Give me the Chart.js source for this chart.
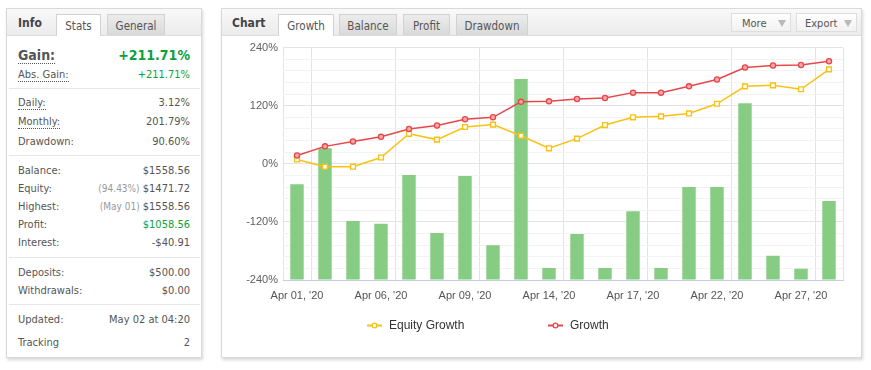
<!DOCTYPE html>
<html>
<head>
<meta charset="utf-8">
<script src="https://cdn.jsdelivr.net/npm/chart.js@4.4.1/dist/chart.umd.min.js"></script>
<style>
body{margin:0;background:#fff;width:871px;height:370px;overflow:hidden;position:relative;
  font-family:"DejaVu Sans Condensed","DejaVu Sans",sans-serif;font-size:11px;color:#555}
.panel{position:absolute;top:8px;height:348px;background:#fff;border:1px solid #d9d9d9;box-shadow:1px 2px 3px rgba(0,0,0,.16)}
.head{position:absolute;left:0;top:0;right:0;height:26px;background:linear-gradient(#f9f9f9,#ebebeb);border-bottom:1px solid #dcdcdc}
.title{position:absolute;top:0;height:26px;line-height:29px;font-weight:bold;font-size:12px;color:#444}
.tab{position:absolute;top:5px;height:20px;line-height:22px;text-align:center;font-size:11.5px;color:#555;
  border:1px solid #d2d2d2;border-bottom:none;background:linear-gradient(#ececec,#d9d9d9);box-sizing:border-box;height:21px}
.tab.on{background:#fff;height:22px}
.btn{position:absolute;top:4px;height:19px;line-height:19px;box-sizing:border-box;border:1px solid #dedede;
  background:linear-gradient(#fff,#f1f1f1);font-size:11px;color:#555;padding-left:10px}
.btn i{position:absolute;right:4px;top:6px;width:0;height:0;border-left:4px solid transparent;border-right:4px solid transparent;border-top:7px solid #b9b9b9}
.row{position:absolute;left:11px;right:11px;height:16px;line-height:16px;white-space:nowrap}
.row .v{position:absolute;right:0;top:0}
.u{border-bottom:1px dotted #555}
.g{color:#0ba23c}
.s{color:#9a9a9a;font-size:10px}
.sep{position:absolute;left:2px;right:1px;height:1px;background:#e6e6e6}
#chartBox{position:absolute;left:0;top:27px}
</style>
</head>
<body>

<div class="panel" style="left:6px;width:194px">
  <div class="head">
    <div class="title" style="left:11px">Info</div>
    <div class="tab on" style="left:49px;width:45px">Stats</div>
    <div class="tab" style="left:100px;width:58px">General</div>
  </div>
  <div class="row" style="top:38px;font-size:14px;font-weight:bold"><span class="u">Gain:</span><span class="v g">+211.71%</span></div>
  <div class="row" style="top:58px"><span class="u">Abs. Gain:</span><span class="v g">+211.71%</span></div>
  <div class="sep" style="top:79px"></div>
  <div class="row" style="top:86px"><span class="u">Daily:</span><span class="v">3.12%</span></div>
  <div class="row" style="top:105px"><span class="u">Monthly:</span><span class="v">201.79%</span></div>
  <div class="row" style="top:125px">Drawdown:<span class="v">90.60%</span></div>
  <div class="sep" style="top:146px"></div>
  <div class="row" style="top:154px">Balance:<span class="v">$1558.56</span></div>
  <div class="row" style="top:172px">Equity:<span class="v"><span class="s">(94.43%)</span> $1471.72</span></div>
  <div class="row" style="top:190px">Highest:<span class="v"><span class="s">(May 01)</span> $1558.56</span></div>
  <div class="row" style="top:208px">Profit:<span class="v g">$1058.56</span></div>
  <div class="row" style="top:226px">Interest:<span class="v">-$40.91</span></div>
  <div class="sep" style="top:248px"></div>
  <div class="row" style="top:256px">Deposits:<span class="v">$500.00</span></div>
  <div class="row" style="top:274px">Withdrawals:<span class="v">$0.00</span></div>
  <div class="sep" style="top:295px"></div>
  <div class="row" style="top:303px">Updated:<span class="v">May 02 at 04:20</span></div>
  <div class="row" style="top:326px">Tracking<span class="v">2</span></div>
</div>

<div class="panel" style="left:221px;width:639px">
  <div class="head">
    <div class="title" style="left:10px">Chart</div>
    <div class="tab on" style="left:56px;width:56px">Growth</div>
    <div class="tab" style="left:117px;width:58px">Balance</div>
    <div class="tab" style="left:181px;width:47px">Profit</div>
    <div class="tab" style="left:234px;width:72px">Drawdown</div>
    <div class="btn" style="left:509px;width:60px">More<i></i></div>
    <div class="btn" style="left:574px;width:61px;padding-left:8px">Export<i></i></div>
  </div>
  <div id="chartBox"><canvas id="growthChart" width="639" height="320"></canvas></div>
</div>

<script>
// trading days shown on the axis
const days = ["Apr 01, '20", "Apr 02, '20", "Apr 03, '20", "Apr 06, '20", "Apr 07, '20",
  "Apr 08, '20", "Apr 09, '20", "Apr 10, '20", "Apr 13, '20", "Apr 14, '20",
  "Apr 15, '20", "Apr 16, '20", "Apr 17, '20", "Apr 20, '20", "Apr 21, '20",
  "Apr 22, '20", "Apr 23, '20", "Apr 24, '20", "Apr 27, '20", "Apr 28, '20"];

// daily bars (drawn up from the bottom of the axis)
const dailyBars = [-42, 32, -118, -124, -23, -143, -25, -168, 175, -215,
  -145, -215, -98, -215, -48, -48, 125, -190, -217, -77];

const equityGrowth = [9, -6, -6, 13, 62, 50, 76, 81, 58, 32,
  52, 80, 96, 98, 104, 124, 160, 162, 154, 195];

const growth = [17, 36, 46, 56, 72, 79, 92, 96, 128, 129,
  134, 136, 147, 147, 160, 174, 199, 203, 204, 211.7];

const yMin = -240, yMax = 240, yStep = 24, yLabelStep = 120;

const yellow = '#f8c114';
const red = '#e7474a';
const gridMajor = '#e3e3e3';
const gridMinor = '#f3f3f3';

const bottomLegend = {
  id: 'bottomLegend',
  afterDraw(chart) {
    const ctx = chart.ctx;
    const items = [
      { ds: chart.data.datasets[1], x: 145 },
      { ds: chart.data.datasets[2], x: 326 }
    ];
    const y = 289.5;
    ctx.save();
    items.forEach(function (it) {
      ctx.strokeStyle = it.ds.borderColor;
      ctx.lineWidth = 2;
      ctx.beginPath();
      ctx.moveTo(it.x, y);
      ctx.lineTo(it.x + 15, y);
      ctx.stroke();
      ctx.fillStyle = '#fff';
      ctx.lineWidth = 1.3;
      ctx.beginPath();
      ctx.arc(it.x + 7.5, y, 2.3, 0, Math.PI * 2);
      ctx.fill();
      ctx.stroke();
      ctx.fillStyle = '#333';
      ctx.font = '12px "Liberation Sans", Arial, sans-serif';
      ctx.textBaseline = 'middle';
      ctx.fillText(it.ds.label, it.x + 22, y);
    });
    ctx.restore();
  }
};

var chart = new Chart(document.getElementById('growthChart').getContext('2d'), {
  data: {
    labels: days,
    datasets: [{
      type: 'bar',
      label: 'Daily',
      data: dailyBars,
      base: yMin,
      backgroundColor: '#86cc82',
      barPercentage: 0.48,
      categoryPercentage: 1,
      order: 3
    }, {
      type: 'line',
      label: 'Equity Growth',
      data: equityGrowth,
      borderColor: yellow,
      borderWidth: 1.5,
      pointStyle: 'rect',
      pointRadius: 3.4,
      pointBorderWidth: 1.4,
      pointBackgroundColor: '#fff',
      pointBorderColor: yellow,
      tension: 0,
      order: 2
    }, {
      type: 'line',
      label: 'Growth',
      data: growth,
      borderColor: red,
      borderWidth: 1.5,
      pointStyle: 'circle',
      pointRadius: 2.6,
      pointBorderWidth: 1.3,
      pointBackgroundColor: '#f6a9a9',
      pointBorderColor: red,
      tension: 0,
      order: 1
    }]
  },
  options: {
    responsive: false,
    animation: false,
    events: [],
    layout: { padding: { top: 11, right: 18, left: 0, bottom: 0 } },
    plugins: { legend: { display: false }, tooltip: { enabled: false } },
    scales: {
      x: {
        type: 'category',
        offset: true,
        afterFit: function (scale) { scale.height = 76; },
        grid: {
          offset: true,
          drawTicks: false,
          color: function (c) {
            if (c.type !== 'tick') return gridMajor;
            return (c.index === 0 || c.index % 3 === 1) ? gridMajor : 'rgba(0,0,0,0)';
          }
        },
        border: { color: '#c3d0de', width: 1 },
        ticks: {
          autoSkip: false,
          maxRotation: 0,
          minRotation: 0,
          padding: 9,
          color: '#555',
          font: { family: '"Liberation Sans", Arial, sans-serif', size: 11 },
          callback: function (v, i) { return i % 3 === 0 ? days[i] : ''; }
        }
      },
      y: {
        min: yMin,
        max: yMax,
        afterFit: function (scale) { scale.width = 61; },
        grid: {
          drawTicks: false,
          color: function (c) {
            return c.tick && Math.round(c.tick.value) % yLabelStep === 0 ? gridMajor : gridMinor;
          }
        },
        border: { display: false },
        ticks: {
          stepSize: yStep,
          autoSkip: false,
          padding: 5,
          color: '#606060',
          font: { family: '"Liberation Sans", Arial, sans-serif', size: 11 },
          callback: function (v) {
            v = Math.round(v);
            return v % yLabelStep === 0 ? v + '%' : '';
          }
        }
      }
    }
  },
  plugins: [bottomLegend]
});
</script>
</body>
</html>
